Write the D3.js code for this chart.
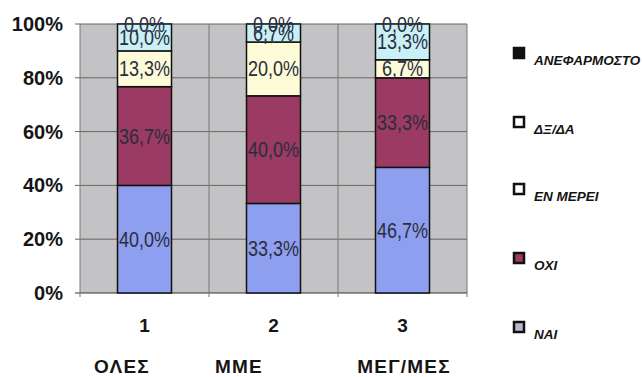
<!DOCTYPE html>
<html lang="el">
<head>
  <meta charset="utf-8">
  <title>Stacked chart</title>
  <style>
    body { margin: 0; background: #fff; }
    svg text { font-family: "Liberation Sans", Arial, sans-serif; }
    .ylab text { font-size: 20px; font-weight: bold; fill: #151515; }
    .vlab { font-size: 18px; fill: #2a2d3d; text-anchor: middle; }
    .leg text { font-size: 13.5px; font-weight: bold; font-style: italic; fill: #151515; }
  </style>
</head>
<body>
  <div id="chart"></div>
  <script src="https://d3js.org/d3.v7.min.js"></script>
  <script>
    // categories and series (percent)
    var categories = ["1", "2", "3"];
    var groupNames = ["ΟΛΕΣ", "ΜΜΕ", "ΜΕΓ/ΜΕΣ"];
    var seriesNames = ["ΝΑΙ", "ΟΧΙ", "ΕΝ ΜΕΡΕΙ", "ΔΞ/ΔΑ", "ΑΝΕΦΑΡΜΟΣΤΟ"];
    var nai = [40.0, 33.3, 46.7];
    var oxi = [36.7, 40.0, 33.3];
    var enMerei = [13.3, 20.0, 6.7];
    var dkna = [10.0, 6.7, 13.3];
    var anef = [0.0, 0.0, 0.0];
    var yTicks = [0, 20, 40, 60, 80, 100];

    var colors = ["#8f9ff0", "#9b3a63", "#fdfbd8", "#c9f0f6", "#111111"];
    var legendColors = ["#b8b8c8", "#9b3a63", "#ffffff", "#ffffff", "#111111"];

    var seriesVals = [nai, oxi, enMerei, dkna, anef];
    var table = categories.map(function(c, i) {
      var row = { cat: c };
      seriesNames.forEach(function(s, k) { row[s] = seriesVals[k][i]; });
      return row;
    });
    var stacked = d3.stack().keys(seriesNames)(table);

    var W = 643, H = 377;
    var pLeft = 80, pRight = 467, pTop = 24, pBottom = 293;

    var svg = d3.select("#chart").append("svg")
      .attr("width", W).attr("height", H);

    var x = d3.scaleBand().domain(categories).range([pLeft, pRight]).paddingInner(0).paddingOuter(0);
    var y = d3.scaleLinear().domain([0, 100]).range([pBottom, pTop]);
    var bw = 54;

    // plot background
    svg.append("rect")
      .attr("x", pLeft).attr("y", pTop)
      .attr("width", pRight - pLeft).attr("height", pBottom - pTop)
      .attr("fill", "#c3c3c5");

    // grid
    svg.append("g").selectAll("line").data(yTicks).enter().append("line")
      .attr("x1", pLeft - 5).attr("x2", pRight)
      .attr("y1", function(d) { return y(d); }).attr("y2", function(d) { return y(d); })
      .attr("stroke", function(d) { return d === 0 ? "#333" : "#666"; })
      .attr("stroke-width", 1);
    var vlines = categories.map(function(c) { return x(c); }).concat([pRight]);
    svg.append("g").selectAll("line").data(vlines).enter().append("line")
      .attr("x1", function(d) { return d; }).attr("x2", function(d) { return d; })
      .attr("y1", pTop).attr("y2", pBottom + 4)
      .attr("stroke", "#777").attr("stroke-width", 1);

    // bars
    var layers = svg.append("g").selectAll("g").data(stacked).enter().append("g")
      .attr("fill", function(d, i) { return colors[i]; });
    layers.selectAll("rect").data(function(d) { return d; }).enter().append("rect")
      .attr("x", function(d) { return x(d.data.cat) + (x.bandwidth() - bw) / 2; })
      .attr("width", bw)
      .attr("y", function(d) { return y(d[1]); })
      .attr("height", function(d) { return y(d[0]) - y(d[1]); })
      .attr("stroke", "#111").attr("stroke-width", 1.5);

    // value labels (slightly tall, like the scanned original)
    var fmt = function(v) { return v.toFixed(1).replace(".", ",") + "%"; };
    stacked.forEach(function(layer) {
      svg.append("g").selectAll("text").data(layer).enter().append("text")
        .attr("class", "vlab")
        .attr("transform", function(d) {
          var cx = x(d.data.cat) + x.bandwidth() / 2;
          var cy = y((d[0] + d[1]) / 2) + 7.5;
          return "translate(" + cx + "," + cy + ") scale(1,1.2)";
        })
        .text(function(d) { return fmt(d[1] - d[0]); });
    });

    // y labels
    svg.append("g").attr("class", "ylab").selectAll("text").data(yTicks).enter().append("text")
      .attr("x", 63).attr("y", function(d) { return y(d) + 7; })
      .attr("text-anchor", "end")
      .text(function(d) { return d + "%"; });

    // x labels
    svg.append("g").selectAll("text").data(categories).enter().append("text")
      .attr("x", function(d) { return x(d) + x.bandwidth() / 2; })
      .attr("y", 332).attr("text-anchor", "middle")
      .attr("font-size", 19).attr("font-weight", "bold").attr("fill", "#151515")
      .text(function(d) { return d; });

    var groupX = [122, 239, 404];
    svg.append("g").selectAll("text").data(groupNames).enter().append("text")
      .attr("x", function(d, i) { return groupX[i]; })
      .attr("y", 373).attr("text-anchor", "middle")
      .attr("font-size", 19).attr("font-weight", "bold").attr("fill", "#151515")
      .attr("letter-spacing", "1.2px")
      .text(function(d) { return d; });

    // legend (top to bottom reversed order)
    var legY = [47, 116, 183, 252, 321];
    var legItems = seriesNames.slice().reverse();
    var leg = svg.append("g").attr("class", "leg").selectAll("g").data(legItems).enter().append("g")
      .attr("transform", function(d, i) { return "translate(513," + legY[i] + ")"; });
    leg.append("rect")
      .attr("x", 1).attr("y", 1)
      .attr("width", 10).attr("height", 10)
      .attr("fill", function(d, i) { return legendColors[4 - i]; })
      .attr("stroke", "#111").attr("stroke-width", 2.5);
    leg.append("text")
      .attr("x", 21).attr("y", 18)
      .text(function(d) { return d; });
  </script>
</body>
</html>
